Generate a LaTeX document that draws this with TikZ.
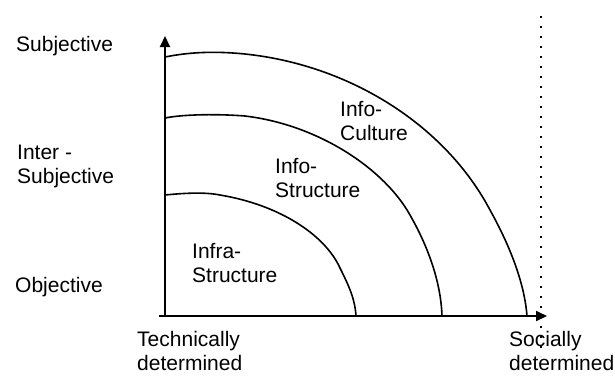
\documentclass[tikz,border=0pt]{standalone}
\usepackage{fontspec}
\setmainfont{Liberation Sans}
\usetikzlibrary{arrows.meta}
\begin{document}
\begin{tikzpicture}[x=1pt,y=-1pt,
  lbl/.style={anchor=north west,inner sep=0pt,align=left,font=\fontsize{21}{24}\selectfont},
  axis/.style={line width=2pt,-{Triangle[length=11pt,width=10pt]}},
  curve/.style={line width=1.6pt},
  dotline/.style={line width=2pt,dash pattern=on 2pt off 8pt}]
\useasboundingbox (0,0) rectangle (615,376);
% axes
\coordinate (o) at (165,316);
\coordinate (xl) at (159,316);
\coordinate (ytop) at (165,36);
\coordinate (xend) at (547,316);
\draw[axis] (xl) -- (xend);
\draw[axis] (o) -- (ytop);
% dotted line
\coordinate (dtop) at (541,16);
\coordinate (dbot) at (541,356);
\draw[dotline] (dtop) -- (dbot);
% curves
\draw[curve] (165,57) .. controls (190,52) and (215,51) .. (245,54)
  .. controls (350,65) and (445,125) .. (490,210)
  .. controls (515,255) and (525,290) .. (527,316);
\draw[curve] (165,118) .. controls (185,114) and (220,114) .. (245,116)
  .. controls (320,125) and (385,170) .. (410,215)
  .. controls (430,250) and (441,285) .. (442,316);
\draw[curve] (165,195) .. controls (185,193) and (205,192) .. (220,195)
  .. controls (280,205) and (325,235) .. (340,268)
  .. controls (350,288) and (355,300) .. (356,316);
% labels
\node[lbl] (subj) at (16,36) {Subjective};
\node[lbl] (inter) at (17,145) {Inter -\\Subjective};
\node[lbl] (obj) at (15,277) {Objective};
\node[lbl] (tech) at (137,331) {Technically\\determined};
\node[lbl] (soc) at (509,331) {Socially\\determined};
\node[lbl] (cult) at (340,101) {Info-\\Culture};
\node[lbl] (struct) at (275,158) {Info-\\Structure};
\node[lbl] (infra) at (192,243) {Infra-\\Structure};
\end{tikzpicture}
\end{document}
